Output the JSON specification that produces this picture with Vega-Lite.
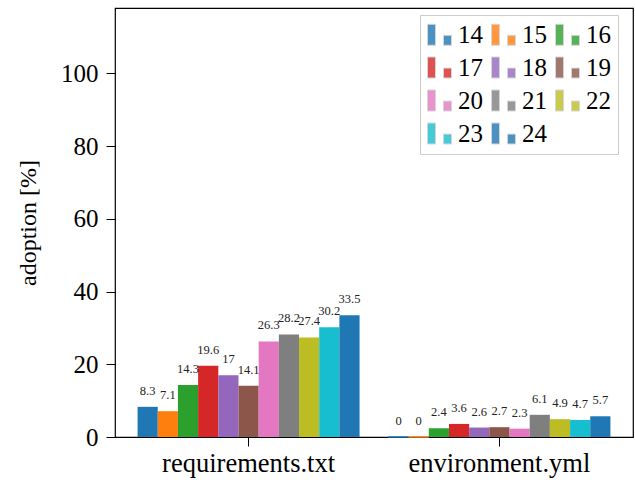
{
  "$schema": "https://vega.github.io/schema/vega-lite/v6.json",
  "autosize": "none",
  "width": 518,
  "height": 429,
  "padding": {"left": 115, "top": 8, "right": 2, "bottom": 46},
  "background": "white",
  "config": {
    "font": "Liberation Serif",
    "view": {"stroke": "black", "strokeWidth": 1.2},
    "axis": {"grid": false, "domainColor": "black", "tickColor": "black", "labelColor": "black", "titleColor": "black", "labelFont": "Liberation Serif", "titleFont": "Liberation Serif", "labelFontSize": 25, "titleFontSize": 24, "titleFontWeight": "normal", "tickSize": 9, "labelPadding": 6}
  },
  "data": {"values": [
    {"file": "requirements.txt", "year": "14", "value": 8.3},
    {"file": "requirements.txt", "year": "15", "value": 7.1},
    {"file": "requirements.txt", "year": "16", "value": 14.3},
    {"file": "requirements.txt", "year": "17", "value": 19.6},
    {"file": "requirements.txt", "year": "18", "value": 17},
    {"file": "requirements.txt", "year": "19", "value": 14.1},
    {"file": "requirements.txt", "year": "20", "value": 26.3},
    {"file": "requirements.txt", "year": "21", "value": 28.2},
    {"file": "requirements.txt", "year": "22", "value": 27.4},
    {"file": "requirements.txt", "year": "23", "value": 30.2},
    {"file": "requirements.txt", "year": "24", "value": 33.5},
    {"file": "environment.yml", "year": "14", "value": 0},
    {"file": "environment.yml", "year": "15", "value": 0},
    {"file": "environment.yml", "year": "16", "value": 2.4},
    {"file": "environment.yml", "year": "17", "value": 3.6},
    {"file": "environment.yml", "year": "18", "value": 2.6},
    {"file": "environment.yml", "year": "19", "value": 2.7},
    {"file": "environment.yml", "year": "20", "value": 2.3},
    {"file": "environment.yml", "year": "21", "value": 6.1},
    {"file": "environment.yml", "year": "22", "value": 4.9},
    {"file": "environment.yml", "year": "23", "value": 4.7},
    {"file": "environment.yml", "year": "24", "value": 5.7}
  ]},
  "encoding": {
    "x": {"field": "file", "type": "nominal", "sort": ["requirements.txt", "environment.yml"], "scale": {"paddingInner": 0.115, "paddingOuter": 0.09}, "axis": {"title": null, "labelAngle": 0, "domain": false, "labelPadding": 4, "labelFontSize": 26.5, "labelLimit": 400}},
    "xOffset": {"field": "year", "type": "nominal", "scale": {"paddingInner": 0, "paddingOuter": 0}},
    "y": {"field": "value", "type": "quantitative", "scale": {"domain": [0, 118], "nice": false, "zero": true}, "axis": {"title": "adoption [%]", "values": [0, 20, 40, 60, 80, 100], "domain": false, "labelPadding": 8, "titlePadding": 20}}
  },
  "layer": [
    {
      "mark": {"type": "bar", "stroke": {"expr": "datum.value == 0 ? scale('color', datum.year) : null"}, "strokeWidth": 1},
      "encoding": {
        "color": {"field": "year", "type": "nominal",
          "scale": {"domain": ["14","15","16","17","18","19","20","21","22","23","24"],
                    "range": ["#1f77b4","#ff7f0e","#2ca02c","#d62728","#9467bd","#8c564b","#e377c2","#7f7f7f","#bcbd22","#17becf","#1f77b4"]},
          "legend": {"title": null, "orient": "none", "legendX": 305, "legendY": 7, "columns": 3, "direction": "horizontal",
            "fillColor": "white", "strokeColor": "#cccccc", "padding": 7, "cornerRadius": 0,
            "symbolType": "M-1,-0.875H-0.33V0.875H-1Z M0.33,0.05H1V0.875H0.33Z", "symbolSize": 576,
            "symbolOpacity": 0.8, "symbolStrokeColor": "#cccccc", "symbolStrokeWidth": 1,
            "labelFontSize": 25, "labelFont": "Liberation Serif", "labelColor": "black", "labelOffset": 6,
            "rowPadding": 7, "columnPadding": 6}}
      }
    },
    {
      "mark": {"type": "text", "baseline": "bottom", "dy": -9, "fontSize": 12.5, "font": "Liberation Serif", "color": "#222"},
      "encoding": {"text": {"field": "value", "type": "quantitative"}}
    }
  ]
}
